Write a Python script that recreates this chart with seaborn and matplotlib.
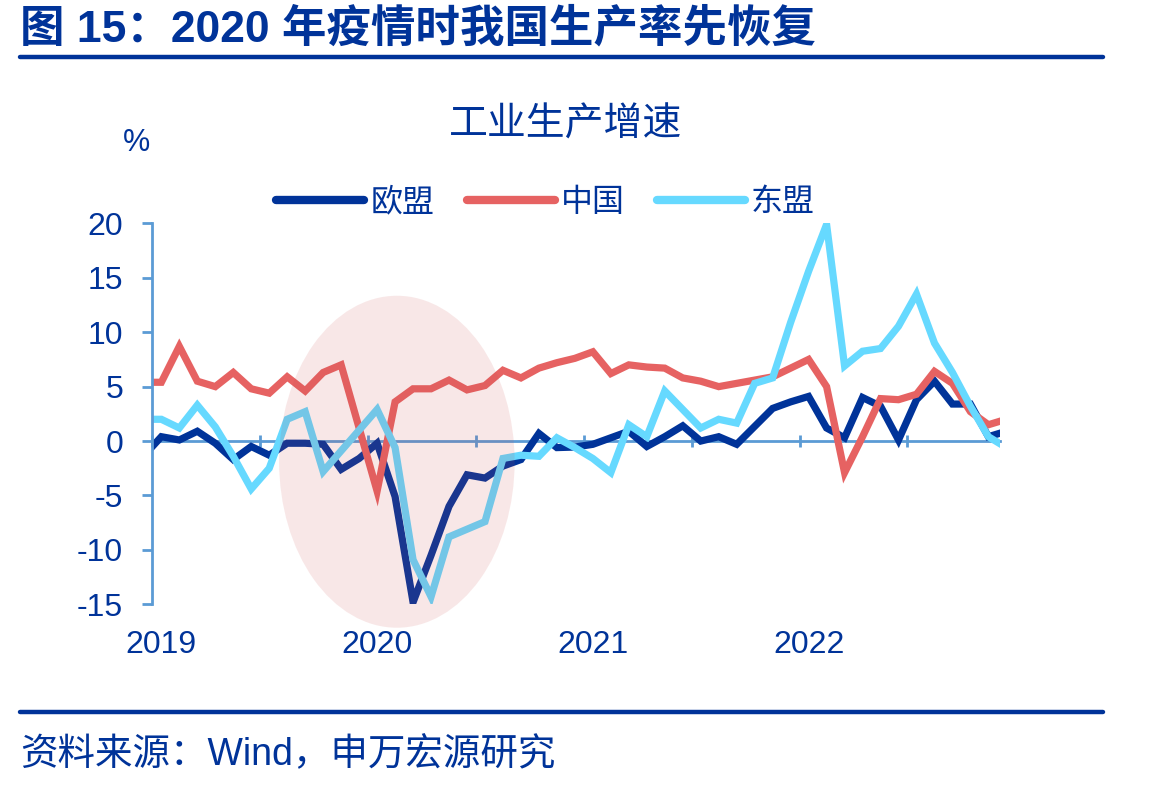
import numpy as np
import pandas as pd
import matplotlib
matplotlib.use('Agg')
import matplotlib.pyplot as plt
from matplotlib.patches import Ellipse
from matplotlib.lines import Line2D
import seaborn as sns

# monthly index: -1 = Dec 2018 ... 47 = Dec 2022
months = list(range(-1, 48))

eu = [-1.4, 0.4, 0.1, 0.9, -0.2, -1.7, -0.5, -1.3, -0.2, -0.2, -0.3, -2.6, -1.6,
      -0.2, -5.1, -14.8, -10.5, -6.0, -3.1, -3.4, -2.3, -1.7, 0.7, -0.6, -0.55,
      -0.3, 0.3, 0.9, -0.5, 0.4, 1.4, 0.0, 0.4, -0.3, 1.35, 3.0, 3.6, 4.1, 1.2,
      0.3, 4.0, 3.2, 0.1, 3.8, 5.5, 3.4, 3.4, 0.4, 0.9]
china = [5.4, 5.4, 8.7, 5.5, 5.0, 6.3, 4.8, 4.4, 5.9, 4.6, 6.3, 7.0, 1.2,
         -4.6, 3.6, 4.8, 4.8, 5.6, 4.7, 5.1, 6.5, 5.8, 6.7, 7.2, 7.6,
         8.2, 6.2, 7.0, 6.8, 6.7, 5.8, 5.5, 5.0, 5.3, 5.6, 5.9, 6.7, 7.5, 5.0,
         -2.9, 0.4, 3.9, 3.8, 4.3, 6.4, 5.3, 2.7, 1.5, 2.0]
asean = [2.0, 2.0, 1.2, 3.3, 1.3, -1.4, -4.4, -2.5, 2.0, 2.7, -2.8, -0.9, 1.0,
         2.9, -0.6, -10.9, -14.3, -8.8, -8.1, -7.4, -1.6, -1.3, -1.4, 0.3, -0.6,
         -1.6, -2.9, 1.5, 0.4, 4.6, 2.9, 1.2, 2.0, 1.65, 5.3, 5.8, 10.9, 15.6, 19.9,
         6.9, 8.25, 8.5, 10.55, 13.5, 9.0, 6.3, 3.2, 0.4, -0.6]

series_names = ['欧盟', '中国', '东盟']
colors = ['#003399', '#E66262', '#66D9FF']
year_pos = [0, 12, 24, 36]
year_labels = ['2019', '2020', '2021', '2022']
yticks = [-15, -10, -5, 0, 5, 10, 15, 20]

df = pd.DataFrame({
    'month': months * 3,
    'value': eu + china + asean,
    'series': [series_names[0]] * len(eu) + [series_names[1]] * len(china) + [series_names[2]] * len(asean),
})

sns.set_style('white')
plt.rcParams['font.family'] = ['Liberation Sans', 'Noto Sans CJK SC']
plt.rcParams['axes.unicode_minus'] = False

navy = '#003399'
axis_blue = '#5B9BD5'

fig = plt.figure(figsize=(11.49, 7.87), dpi=100)
ax = fig.add_axes([0.1326, 0.2321, 0.7378, 0.4841])

sns.lineplot(data=df, x='month', y='value', hue='series', hue_order=series_names,
             palette=colors, linewidth=5.2, ax=ax, legend=False, sort=False)
for ln in ax.get_lines():
    ln.set_solid_joinstyle('miter')

# shaded ellipse over the 2020 shock
ax.add_patch(Ellipse((13.1, -1.9), width=13.1, height=30.5, facecolor=(0.8, 0.3, 0.3),
                     alpha=0.13, edgecolor='none', zorder=5, clip_on=False))

ax.set_xlim(-0.5, 46.65)
ax.set_ylim(-15, 20)
ax.set_xlabel('')
ax.set_ylabel('')

for s in ['top', 'right']:
    ax.spines[s].set_visible(False)
ax.spines['left'].set_color(axis_blue)
ax.spines['left'].set_linewidth(2)
ax.spines['bottom'].set_position(('data', 0))
ax.spines['bottom'].set_color(axis_blue)
ax.spines['bottom'].set_linewidth(2)
ax.spines['bottom'].set_zorder(1)

ax.set_yticks(yticks)
ax.set_yticklabels([str(v) for v in yticks])
ax.tick_params(axis='y', direction='out', length=7, width=2, color=axis_blue,
               labelsize=23, labelcolor=navy, pad=14, left=True)

ax.set_xticks(year_pos)
ax.set_xticklabels(year_labels)
ax.set_xticks(np.arange(-0.5, 46, 6), minor=True)
ax.tick_params(axis='x', which='major', length=0, labelsize=23, labelcolor=navy, pad=136)
ax.tick_params(axis='x', which='minor', direction='inout', length=8, width=2, color=axis_blue,
               bottom=True)

# legend
handles = [Line2D([0], [0], color=c, lw=6, solid_capstyle='round') for c in colors]
fig.legend(handles, series_names, loc='center', bbox_to_anchor=(0.475, 0.742), ncol=3,
           frameon=False, fontsize=23, handlelength=2.75, handletextpad=0.2,
           columnspacing=1.0, labelcolor=navy)

# texts
fig.text(20 / 1149, 1 - 29 / 787, '图 15：2020 年疫情时我国生产率先恢复', fontsize=32,
         fontweight='bold', color=navy, ha='left', va='center')
fig.text(566 / 1149, 1 - 125 / 787, '工业生产增速', fontsize=28, color=navy,
         ha='center', va='center')
fig.text(137 / 1149, 1 - 143 / 787, '%', fontsize=22, color=navy, ha='center', va='center')
fig.text(20 / 1149, 1 - 755 / 787, '资料来源：Wind，申万宏源研究', fontsize=27, color=navy,
         ha='left', va='center')

# horizontal rules
fig.add_artist(Line2D([20 / 1149, 1103 / 1149], [1 - 57 / 787, 1 - 57 / 787], color=navy, lw=3.2))
fig.add_artist(Line2D([20 / 1149, 1103 / 1149], [1 - 712 / 787, 1 - 712 / 787], color=navy, lw=3.2))

fig.savefig('out.png', dpi=100)
